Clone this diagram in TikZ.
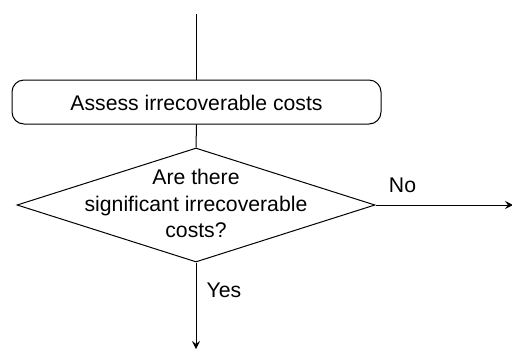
\documentclass[tikz,border=0pt]{standalone}
\usepackage{fontspec}
\setmainfont{Liberation Sans}
\usetikzlibrary{shapes.geometric,arrows.meta}
\begin{document}
\begin{tikzpicture}[x=1pt,y=-1pt,
  every node/.style={font=\fontsize{21.2}{27}\selectfont},
  lbl/.style={anchor=base,inner sep=0pt},
  line/.style={draw=black,line width=1pt},
  flow/.style={line,-{Stealth[length=8pt,width=8pt,inset=3pt]}},
  procbox/.style={line,rounded corners=12pt,minimum width=369pt,minimum height=44pt,inner sep=0pt},
  decision/.style={line,diamond,aspect=3.17,minimum width=358pt,minimum height=114pt,inner sep=0pt}]
  \useasboundingbox (0,0) rectangle (512,349);
  % entry point above the process step
  \coordinate (entry) at (196.5,14);
  \node[procbox] (assess) at (196.5,102) {};
  \node[lbl] (assesstxt) at (196.5,110) {Assess irrecoverable costs};
  \node[decision] (sig) at (196,205) {};
  % three text lines of the decision
  \node[lbl] (q1) at (196,184) {Are there};
  \node[lbl] (q2) at (196,211) {significant irrecoverable};
  \node[lbl] (q3) at (196,237.5) {costs?};
  \coordinate (noend) at (513,205);
  \coordinate (yesend) at (196,349);
  \draw[line] (entry) -- (assess.north);
  \draw[line] (assess.south) -- (sig.north);
  \draw[flow] (sig.east) -- (noend);
  \draw[flow] (sig.south) -- (yesend);
  \node[lbl] (no) at (402.5,192) {No};
  \node[lbl] (yes) at (224,297) {Yes};
\end{tikzpicture}
\end{document}
